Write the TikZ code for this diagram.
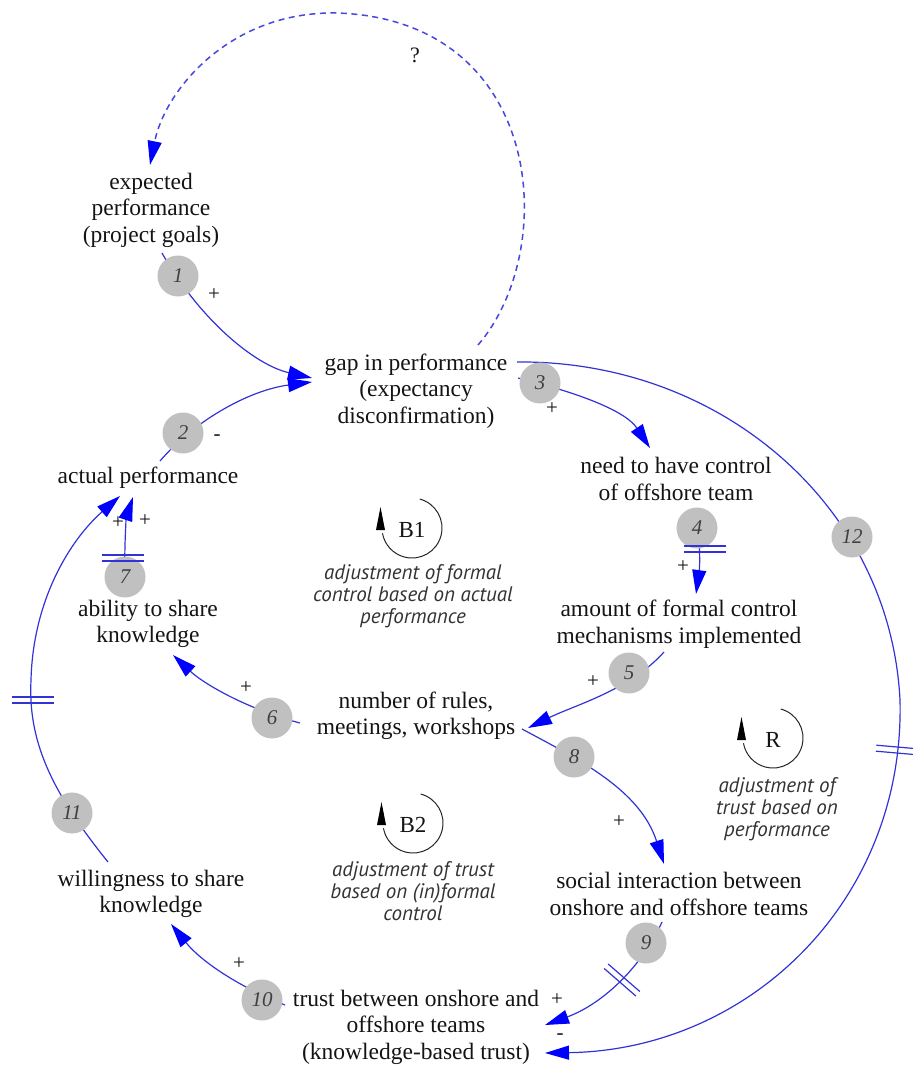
\documentclass[tikz,border=0pt]{standalone}
\usepackage{fontspec}
\setmainfont{Liberation Serif}
\newfontfamily\descfont{PT Sans}
\usetikzlibrary{arrows.meta}
\pgfdeclarelayer{bg}
\pgfsetlayers{bg,main}
\definecolor{linkblue}{RGB}{50,50,215}
\definecolor{tipblue}{RGB}{0,0,255}
\definecolor{numgray}{RGB}{192,192,192}
\definecolor{txt}{RGB}{20,20,20}
\tikzset{
  var/.style={align=center, inner sep=1pt, text=txt, font=\fontsize{23.5}{26.5}\selectfont},
  num/.style={circle, fill=numgray, minimum size=41pt, inner sep=0pt, text=black!75, font=\itshape\fontsize{21}{21}\selectfont},
  pol/.style={inner sep=0pt, text=txt, font=\fontsize{21}{21}\selectfont},
  link/.style={draw=linkblue, line width=1.2pt, -{Triangle[length=24pt,width=14pt,color=tipblue]}},
  dlink/.style={link, draw={rgb,255:red,70;green,70;blue,225}, line width=1.5pt, dash pattern=on 6pt off 4.5pt},
  hashline/.style={draw=linkblue, line width=1.2pt},
  hash/.pic={\draw[hashline] (-3,-21) -- (-3,21) (3,-21) -- (3,21);},
  loopline/.style={draw=black!85, line width=1pt},
  looplbl/.style={inner sep=0pt, text=txt, font=\fontsize{23}{23}\selectfont},
  loopdesc/.style={align=center, inner sep=0pt, text=black!80, font=\descfont\itshape\fontsize{21}{22}\selectfont},
  loopsym/.pic={
    \draw[loopline] (-75:30) arc[start angle=-75, end angle=170, radius=30];
    \fill[black] (-36,2) -- (-27,2) -- (-31.5,-21) -- cycle;
    \node[looplbl] (-l) at (0,2) {#1};
  }
}
\begin{document}
\begin{tikzpicture}[x=1pt,y=-1pt]
\useasboundingbox (0,0) rectangle (912,1067);

% variables
\node[var] (ep) at (151,210) {expected\\performance\\(project goals)};
\node[var] (gap) at (416,391) {gap in performance\\(expectancy\\disconfirmation)};
\node[var] (act) at (148,478) {actual performance};
\node[var] (need) at (676,479) {need to have control\\of offshore team};
\node[var] (amt) at (679,624) {amount of formal control\\mechanisms implemented};
\node[var] (rules) at (416,716) {number of rules,\\meetings, workshops};
\node[var] (abil) at (148,624) {ability to share\\knowledge};
\node[var] (will) at (151,894) {willingness to share\\knowledge};
\node[var] (soc) at (679,894) {social interaction between\\onshore and offshore teams};
\node[var] (trust) at (416,1027) {trust between onshore and\\offshore teams\\(knowledge-based trust)};

% number markers
\node[num] (c1) at (178,276) {1};
\node[num] (c2) at (183,433) {2};
\node[num] (c3) at (540,383) {3};
\node[num] (c4) at (697,528) {4};
\node[num] (c5) at (629,673) {5};
\node[num] (c6) at (272,718) {6};
\node[num] (c7) at (125,577) {7};
\node[num] (c8) at (574,757) {8};
\node[num] (c9) at (646,943) {9};
\node[num] (c10) at (262,1000) {10};
\node[num] (c11) at (72,813) {11};
\node[num] (c12) at (852,537) {12};

% polarity labels
\node[pol] (p1) at (214,295) {+};
\node[pol] (p2) at (217,438) {-};
\node[pol] (p3) at (552,409) {+};
\node[pol] (p4) at (683,567) {+};
\node[pol] (p5) at (593,682) {+};
\node[pol] (p6) at (246,688) {+};
\node[pol] (p7) at (145,521) {+};
\node[pol] (p11) at (118,523) {+};
\node[pol] (p8) at (619,822) {+};
\node[pol] (p9) at (557,1000) {+};
\node[pol] (p12) at (560,1037) {-};
\node[pol] (p10) at (239,964) {+};
\node[pol, font=\fontsize{22}{22}\selectfont] (q) at (415,55) {?};

% loop symbols
\pic (B1) at (412,528) {loopsym=B1};
\pic (B2) at (413,823) {loopsym=B2};
\pic (R) at (773,738) {loopsym=R};
\node[loopdesc] (d1) at (413,596) {adjustment of formal\\control based on actual\\performance};
\node[loopdesc] (d2) at (413,891) {adjustment of trust\\based on (in)formal\\control};
\node[loopdesc] (d3) at (777,809) {adjustment of\\trust based on\\performance};

% connectors
\begin{pgfonlayer}{bg}
\draw[link] ([shift={(11,43)}]ep.center) .. controls (200,320) and (255,365) .. ([shift={(-104,-13)}]gap.center);
\draw[link] ([shift={(12,-17)}]act.center) .. controls (195,420) and (250,390) .. ([shift={(-104,-9)}]gap.center);
\draw[link] ([shift={(102,-13)}]gap.center) .. controls (575,392) and (625,410) .. ([shift={(-26,-31)}]need.center);
\draw[link] ([shift={(21,31)}]need.center) .. controls (700,545) and (700,565) .. ([shift={(17,-30)}]amt.center);
\draw[link] ([shift={(-15,28)}]amt.center) .. controls (630,690) and (575,705) .. ([shift={(112,12)}]rules.center);
\draw[link] ([shift={(-116,7)}]rules.center) .. controls (250,710) and (205,685) .. ([shift={(25,31)}]abil.center);
\draw[link] (c7.center) .. controls (124,540) and (127,515) .. ([shift={(-15,19)}]act.center);
\draw[link] ([shift={(106,13)}]rules.center) .. controls (580,760) and (640,790) .. ([shift={(-15,-30)}]soc.center);
\draw[link] ([shift={(-17,28)}]soc.center) .. controls (640,970) and (600,1005) .. ([shift={(129,-2)}]trust.center);
\draw[link] ([shift={(-131,-22)}]trust.center) .. controls (235,985) and (200,960) .. ([shift={(20,30)}]will.center);
\draw[link] ([shift={(-43,-32)}]will.center) .. controls (50,790) and (28,740) .. (31,680)
   .. controls (33,600) and (70,540) .. ([shift={(-28,18)}]act.center);
\draw[link] ([shift={(101,-29)}]gap.center) .. controls (720,360) and (890,505) .. (900,700)
   .. controls (905,900) and (750,1050) .. ([shift={(129,26)}]trust.center);
\draw[dlink] ([shift={(62,-46)}]gap.center) .. controls (560,250) and (545,20) .. (337,13)
   .. controls (230,11) and (165,90) .. ([shift={(-1,-45)}]ep.center);
\end{pgfonlayer}

% delay marks
\pic[rotate=90] at (705,549) {hash};
\pic[rotate=90] at (123,558) {hash};
\pic[rotate=90] at (33,700) {hash};
\pic[rotate=85] at (897,750) {hash};
\pic[rotate=49] at (622,980) {hash};
\end{tikzpicture}
\end{document}
